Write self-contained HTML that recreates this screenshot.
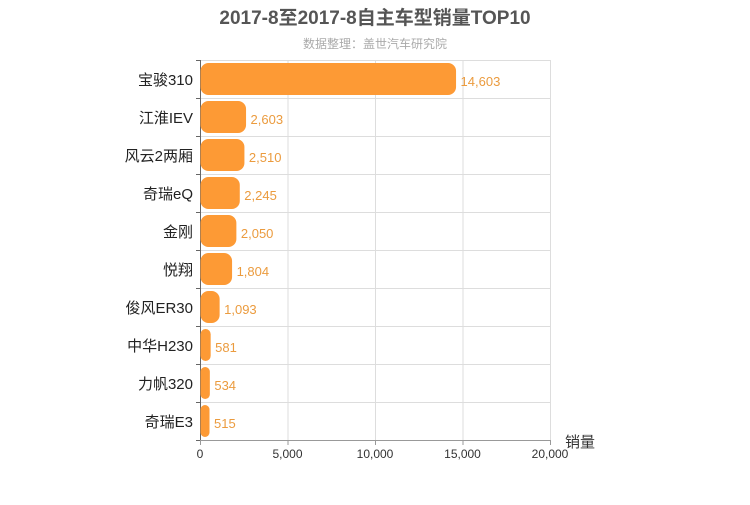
<!DOCTYPE html>
<html><head><meta charset="utf-8"><style>
body{margin:0;background:#fff;width:750px;height:500px;overflow:hidden;font-family:"Liberation Sans","Noto Sans CJK SC",sans-serif}
</style></head><body>
<svg id="c" width="750" height="500">
<text x="375" y="24" text-anchor="middle" font-size="19" font-weight="bold" fill="#555" font-family="Liberation Sans, Noto Sans CJK SC, sans-serif">2017-8至2017-8自主车型销量TOP10</text>
<text x="375" y="48" text-anchor="middle" font-size="12" fill="#aaa" font-family="Liberation Sans, Noto Sans CJK SC, sans-serif">数据整理：盖世汽车研究院</text>
<text x="565" y="447" font-size="15" fill="#333" font-family="Liberation Sans, Noto Sans CJK SC, sans-serif">销量</text>
<g id="plot"></g>
</svg>
<script>
const categories=["宝骏310","江淮IEV","风云2两厢","奇瑞eQ","金刚","悦翔","俊风ER30","中华H230","力帆320","奇瑞E3"];
const values=[14603,2603,2510,2245,2050,1804,1093,581,534,515];
const ticks=[0,5000,10000,15000,20000];
const tickLabels=["0","5,000","10,000","15,000","20,000"];
const X0=200,X1=550,Y0=60,RH=38,MAX=20000;
const xs=v=>X0+(X1-X0)*v/MAX;
const yRow=i=>Y0+i*RH;
const g=document.getElementById('plot');
const NS="http://www.w3.org/2000/svg";
const F="Liberation Sans, Noto Sans CJK SC, sans-serif";
function mk(t,a){const e=document.createElementNS(NS,t);for(const k in a)e.setAttribute(k,a[k]);g.appendChild(e);return e;}
for(let i=0;i<=categories.length;i++){
  const l=mk('line',{x1:X0,x2:X1,y1:yRow(i)+0.5,y2:yRow(i)+0.5,stroke:i==categories.length?'#999':'#ddd'});
  
  
  const yt=mk('line',{x1:X0-4,x2:X0,y1:yRow(i)+0.5,y2:yRow(i)+0.5,stroke:'#666'});
  
  
}
ticks.forEach((t,i)=>{
  const l=mk('line',{x1:xs(t)+0.5,x2:xs(t)+0.5,y1:Y0,y2:yRow(categories.length)+(i==0?5:0),stroke:i==0?'#666':'#ddd'});
  
  
  const tk=mk('line',{x1:xs(t)+0.5,x2:xs(t)+0.5,y1:yRow(categories.length),y2:yRow(categories.length)+5,stroke:'#999'});
  
  
  const tx=mk('text',{x:xs(t),y:458,'text-anchor':'middle','font-size':12,fill:'#333','font-family':F});
  tx.textContent=tickLabels[i];
  
  
});
categories.forEach((c,i)=>{
  const y=yRow(i);
  const w=xs(values[i])-X0;
  const b=mk('rect',{x:X0+0.5,y:y+3,width:w,height:32,rx:Math.min(8,w/2),fill:'#fd9a35'});
  
  
  const lb=mk('text',{x:193,y:y+25,'text-anchor':'end','font-size':15,fill:'#222','font-family':F});
  lb.textContent=c;
  
  
  const v=mk('text',{x:X0+w+5,y:y+26,'font-size':13,fill:'#eb9b3e','font-family':F});
  v.textContent=values[i].toLocaleString('en-US');
  
  
});
</script>
</body></html>
